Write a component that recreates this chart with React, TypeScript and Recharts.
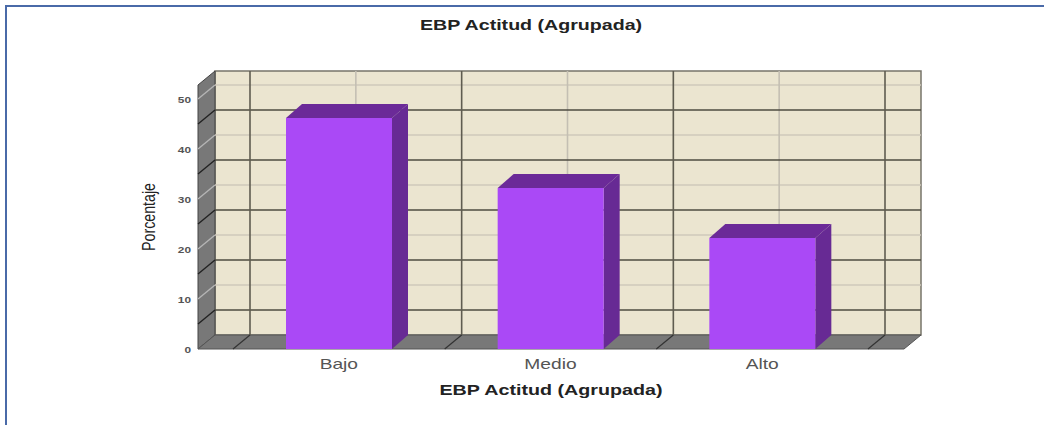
import { BarChart, Bar, XAxis, YAxis, ReferenceArea, ReferenceLine } from 'recharts'

const categories = ['Bajo', 'Medio', 'Alto']
const porcentaje = [46.2, 32.2, 22.2]
const yTicks = [0, 10, 20, 30, 40, 50]
const darkRows = [5, 15, 25, 35, 45]
const lightRows = [10, 20, 30, 40, 50]
const yMax = 52.8

const data = categories.map((name, i) => ({ name, porcentaje: porcentaje[i] }))

// depth of the fake 3D box
const DX = 17
const DY = 14
const PAD_LEFT = 35
const PAD_RIGHT = 36

const Walls = ({ x, y, width, height }: any) => {
  const l = x - PAD_LEFT
  const r = x + width + PAD_RIGHT
  const b = y + height
  return (
    <g>
      <rect x={l + DX} y={y - DY} width={r - l} height={height} fill="#ebe5d0" stroke="#77746a" strokeWidth={1.5} />
      <polygon points={`${l},${y} ${l + DX},${y - DY} ${l + DX},${b - DY} ${l},${b}`} fill="#787878" stroke="#444" strokeWidth={1} />
      <polygon points={`${l},${b} ${l + DX},${b - DY} ${r + DX},${b - DY} ${r},${b}`} fill="#787878" stroke="#555" strokeWidth={1} />
    </g>
  )
}

const Row = ({ x1, y1, x2, y2, color, side }: any) => (
  <g fill="none" strokeWidth={1.4}>
    <line x1={x1 + DX} y1={y1 - DY} x2={x2 + DX} y2={y2 - DY} stroke={color} />
    <line x1={x1} y1={y1} x2={x1 + DX} y2={y1 - DY} stroke={side} />
  </g>
)

const Col = ({ x1, y1, x2, y2, color, floor }: any) => {
  const top = Math.min(y1, y2)
  const bottom = Math.max(y1, y2)
  return (
    <g stroke={color} strokeWidth={1.6} fill="none">
      <line x1={x1 + DX} y1={top - DY} x2={x2 + DX} y2={bottom - DY} />
      {floor && <line x1={x1} y1={bottom} x2={x1 + DX} y2={bottom - DY} stroke="#333" strokeWidth={1.2} />}
    </g>
  )
}

const Box3D = ({ x, y, width, height }: any) => {
  const r = x + width
  const b = y + height
  const d = DX - 1
  return (
    <g>
      <polygon points={`${x},${y} ${x + d},${y - DY} ${r + d},${y - DY} ${r},${y}`} fill="#6b2a98" />
      <polygon points={`${r},${y} ${r + d},${y - DY} ${r + d},${b - DY} ${r},${b}`} fill="#672a94" />
      <rect x={x} y={y} width={width} height={height} fill="#aa49f6" />
    </g>
  )
}

const CategoryTick = ({ x, y, payload }: any) => (
  <text
    transform={`translate(${x} ${y + 12}) scale(1.28 1)`}
    textAnchor="middle"
    fill="#555"
    fontSize={15}
    fontFamily="Liberation Sans"
  >
    {payload.value}
  </text>
)

const ValueTick = ({ x, y, payload }: any) => (
  <text
    transform={`translate(${x + 1} ${y + 4}) scale(1.25 1)`}
    textAnchor="end"
    fill="#555"
    fontSize={9.5}
    fontWeight={700}
    fontFamily="Liberation Sans"
  >
    {payload.value}
  </text>
)

export default function App() {
  return (
    <div style={{ position: 'absolute', left: 0, top: 0, width: 1044, height: 425, background: '#fff', overflow: 'hidden' }}>
      <div style={{ position: 'absolute', left: 5, top: 5, width: 1039, height: 420, borderLeft: '2px solid #4a6aa8', borderTop: '2px solid #4a6aa8', boxSizing: 'border-box' }} />
      <div style={{ position: 'absolute', left: 0, top: 17, width: 1062, textAlign: 'center', font: 'bold 14px "Liberation Sans"', color: '#222', transform: 'scaleX(1.4)', transformOrigin: '531px 0' }}>
        EBP Actitud (Agrupada)
      </div>
      <BarChart
        width={1044}
        height={425}
        data={data}
        margin={{ top: 85, right: 140, bottom: 0, left: 0 }}
        style={{ position: 'absolute', left: 0, top: 0 }}
      >
        <ReferenceArea y1={0} y2={yMax} zIndex={10} shape={<Walls />} />
        {lightRows.map(v => (
          <ReferenceLine key={v} y={v} zIndex={20} shape={<Row color="#cfc9bb" side="#b5b5b5" />} />
        ))}
        {categories.map(c => (
          <ReferenceLine key={c} x={c} zIndex={21} shape={<Col color="#c4bfb3" />} />
        ))}
        {darkRows.map(v => (
          <ReferenceLine key={v} y={v} zIndex={22} shape={<Row color="#4e4b40" side="#222" />} />
        ))}
        {categories.map(c => (
          <ReferenceLine key={c} x={c} zIndex={23} position="start" shape={<Col color="#5f5c50" floor />} />
        ))}
        <ReferenceLine x="Alto" zIndex={23} position="end" shape={<Col color="#5f5c50" floor />} />
        <XAxis
          dataKey="name"
          padding={{ left: PAD_LEFT, right: PAD_RIGHT }}
          height={76}
          axisLine={false}
          tickLine={false}
          tick={<CategoryTick />}
          label={{ value: 'EBP Actitud (Agrupada)', position: 'insideBottom', offset: 30, fill: '#222', fontSize: 15, fontWeight: 700, fontFamily: 'Liberation Sans', textLength: 223, lengthAdjust: 'spacingAndGlyphs' }}
        />
        <YAxis
          type="number"
          domain={[0, yMax]}
          ticks={yTicks}
          width={198}
          axisLine={false}
          tickLine={false}
          tick={<ValueTick />}
          label={{ value: 'Porcentaje', angle: -90, position: 'insideLeft', offset: 149, fill: '#222', fontSize: 18, fontFamily: 'Liberation Sans', textLength: 68, lengthAdjust: 'spacingAndGlyphs', textAnchor: 'middle' }}
        />
        <Bar dataKey="porcentaje" barSize={106} shape={<Box3D />} isAnimationActive={false} zIndex={1000} />
      </BarChart>
    </div>
  )
}
